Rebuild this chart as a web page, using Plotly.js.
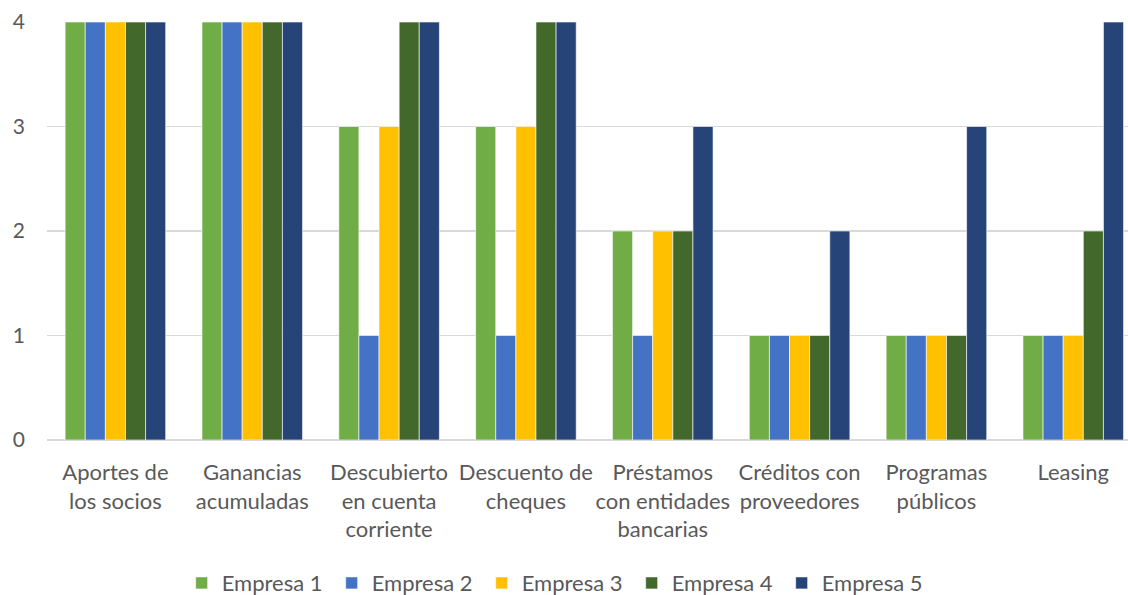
<!DOCTYPE html>
<html>
<head>
<meta charset="utf-8">
<script src="https://cdn.plot.ly/plotly-3.0.1.min.js"></script>
<style>html,body{margin:0;padding:0;background:#fff;}#chart{width:1128px;height:595px;}</style>
</head>
<body>
<div id="chart"></div>
<script>
const categories = [
  "Aportes de<br>los socios",
  "Ganancias<br>acumuladas",
  "Descubierto<br>en cuenta<br>corriente",
  "Descuento de<br>cheques",
  "Préstamos<br>con entidades<br>bancarias",
  "Créditos con<br>proveedores",
  "Programas<br>públicos",
  "Leasing"
];
const seriesNames = ["Empresa 1", "Empresa 2", "Empresa 3", "Empresa 4", "Empresa 5"];
const empresa1 = [4, 4, 3, 3, 2, 1, 1, 1];
const empresa2 = [4, 4, 1, 1, 1, 1, 1, 1];
const empresa3 = [4, 4, 3, 3, 2, 1, 1, 1];
const empresa4 = [4, 4, 4, 4, 2, 1, 1, 2];
const empresa5 = [4, 4, 4, 4, 3, 2, 3, 4];
const colors = ["#70AD47", "#4472C4", "#FFC000", "#43682B", "#264478"];
const values = [empresa1, empresa2, empresa3, empresa4, empresa5];

const traces = values.map((v, i) => ({
  type: "bar",
  name: seriesNames[i],
  x: categories,
  y: v,
  marker: {color: colors[i], line: {color: "#ffffff", width: 0.6}},
  hoverinfo: "none"
}));

const font = "Lato, 'Open Sans', sans-serif";
const layout = {
  width: 1128, height: 595,
  margin: {l: 47, r: 0, t: 22, b: 155},
  barmode: "group",
  bargap: 0.265,
  bargroupgap: 0,
  paper_bgcolor: "#ffffff",
  plot_bgcolor: "#ffffff",
  font: {family: font, color: "#595959", size: 20},
  xaxis: {
    range: [-0.5, 7.4],
    showgrid: false,
    showline: false,
    zeroline: false,
    ticks: "",
    tickfont: {size: 22, color: "#595959"},
    ticklabelstandoff: 17,
    automargin: false
  },
  yaxis: {
    range: [0, 4],
    dtick: 1,
    showgrid: true,
    gridcolor: "#d9d9d9",
    gridwidth: 1.5,
    zeroline: true,
    zerolinecolor: "#d9d9d9",
    zerolinewidth: 1.5,
    showline: false,
    ticks: "",
    tickfont: {size: 21, color: "#595959"},
    ticklabelstandoff: 21,
    automargin: false
  },
  legend: {
    orientation: "h",
    xref: "container", yref: "container",
    x: 0.4935, xanchor: "center",
    y: 0.02, yanchor: "middle",
    font: {size: 22, color: "#595959"},
    itemwidth: 30,
    entrywidth: 105,
    entrywidthmode: "pixels",
    tracegroupgap: 0
  },
  showlegend: true
};

Plotly.newPlot("chart", traces, layout, {staticPlot: true, displayModeBar: false});
</script>
</body>
</html>
